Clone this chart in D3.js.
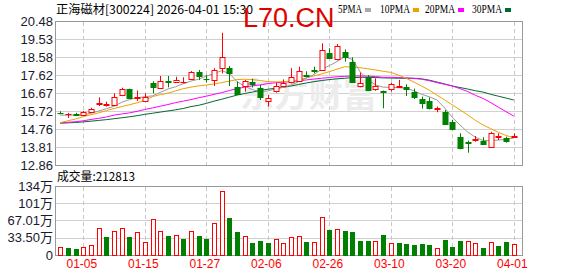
<!DOCTYPE html>
<html lang="zh">
<head>
<meta charset="UTF-8">
<title>正海磁材 K线</title>
<style>
  body { margin: 0; background: #fff; }
  svg text { font-family: "Liberation Sans", Arial, "Noto Sans CJK SC", sans-serif; }
</style>
</head>
<body>
<div id="chart"></div>
<script src="https://d3js.org/d3.v7.min.js"></script>
<script>
// trading days shown (MM-DD)
var dates = ["12-29","12-30","12-31","01-05","01-06","01-07","01-08","01-09","01-12","01-13","01-14",
  "01-15","01-16","01-19","01-20","01-21","01-22","01-23","01-26","01-27","01-28","01-29","01-30",
  "02-02","02-03","02-04","02-05","02-06","02-09","02-10","02-11","02-12","02-13","02-24","02-25",
  "02-26","02-27","03-02","03-03","03-04","03-05","03-06","03-09","03-10","03-11","03-12","03-13",
  "03-16","03-17","03-18","03-19","03-20","03-23","03-24","03-25","03-26","03-27","03-30","03-31","04-01"];

var open  = [15.63,15.52,15.56,15.51,15.68,16.10,16.05,16.07,16.56,16.88,16.42,16.26,17.22,16.95,17.29,17.22,17.24,17.45,17.78,17.41,
  17.36,17.98,18.01,17.00,17.04,17.27,16.92,16.21,16.79,17.04,17.22,17.32,17.60,17.91,17.89,18.80,18.45,18.86,18.33,17.04,
  17.53,16.87,16.76,16.85,17.02,16.97,16.74,16.37,16.23,15.82,15.65,15.12,14.33,14.09,14.22,14.15,13.78,14.37,14.27,14.37];
var high  = [15.70,15.62,15.62,15.72,15.89,16.44,16.21,16.65,16.95,16.90,16.80,16.65,17.29,17.57,17.57,17.53,17.50,17.83,17.89,17.62,
  17.98,19.86,18.10,17.27,17.36,17.43,17.09,16.56,17.22,17.39,17.98,18.06,17.82,18.06,19.30,19.04,19.26,18.98,18.56,17.75,
  17.62,17.45,16.80,17.22,17.36,17.13,16.90,16.48,16.43,15.95,15.77,15.25,14.54,14.15,14.39,14.33,14.62,14.54,14.36,14.54];
var low   = [15.55,15.35,15.45,15.49,15.66,15.98,15.95,16.04,16.50,16.40,16.25,16.22,16.65,16.93,16.97,17.20,17.18,17.42,17.36,17.22,
  17.04,17.71,17.04,16.60,16.74,16.97,16.30,15.95,16.69,17.00,17.18,17.28,17.50,17.71,17.85,18.50,18.40,18.33,17.20,16.97,
  16.79,16.79,15.86,16.74,17.00,16.51,16.36,15.84,15.80,15.65,14.99,14.70,13.69,13.51,14.09,13.95,13.78,14.18,14.04,14.31];
var close = [15.61,15.54,15.53,15.65,15.82,16.13,16.08,16.48,16.88,16.42,16.46,16.47,17.00,17.31,17.26,17.34,17.26,17.80,17.57,17.39,
  17.89,18.56,17.74,16.65,17.31,17.17,16.42,16.39,17.04,17.18,17.50,17.85,17.55,17.88,18.95,18.56,19.16,18.59,17.27,17.18,
  16.83,17.04,16.72,17.12,17.05,16.87,16.47,16.16,15.86,15.85,15.03,14.75,13.74,14.03,14.25,13.97,14.54,14.40,14.09,14.40];

// moving averages as drawn
var ma5  = [15.50,15.50,15.50,15.52,15.60,15.72,15.84,15.97,16.18,16.32,16.42,16.47,16.52,16.70,16.88,17.00,17.16,17.30,17.40,17.56,
  17.70,17.85,17.70,17.27,17.02,16.85,16.74,16.78,16.88,16.97,17.09,17.27,17.45,17.65,17.92,18.12,18.33,18.59,18.45,17.80,
  17.38,17.10,16.98,16.97,16.95,16.92,16.79,16.60,16.47,16.30,15.88,15.38,14.98,14.60,14.33,14.16,14.15,14.18,14.22,14.29];
var ma10 = [15.10,15.20,15.30,15.42,15.52,15.62,15.74,15.85,15.95,16.05,16.15,16.28,16.48,16.58,16.66,16.78,16.90,16.98,17.05,17.09,
  17.15,17.22,17.30,17.38,17.40,17.38,17.33,17.27,17.26,17.27,17.30,17.36,17.47,17.57,17.68,17.80,17.93,18.06,18.04,18.01,
  17.95,17.89,17.82,17.76,17.62,17.45,17.25,17.04,16.82,16.56,16.30,16.04,15.78,15.51,15.22,14.98,14.78,14.59,14.42,14.31];
var ma20 = [15.10,15.12,15.15,15.20,15.27,15.33,15.40,15.50,15.56,15.62,15.70,15.80,15.88,15.97,16.06,16.16,16.24,16.32,16.42,16.50,
  16.60,16.69,16.80,16.90,16.98,17.05,17.10,17.17,17.21,17.24,17.27,17.31,17.36,17.41,17.45,17.49,17.53,17.55,17.57,17.57,
  17.56,17.54,17.50,17.50,17.49,17.47,17.44,17.40,17.32,17.22,17.13,17.04,16.90,16.75,16.55,16.38,16.16,15.92,15.68,15.45];
var ma30 = [15.07,15.09,15.11,15.14,15.18,15.22,15.26,15.31,15.36,15.41,15.47,15.54,15.60,15.66,15.72,15.78,15.85,15.95,16.02,16.12,
  16.24,16.34,16.45,16.56,16.64,16.72,16.80,16.87,16.92,16.97,17.04,17.12,17.20,17.27,17.33,17.38,17.42,17.45,17.48,17.50,
  17.50,17.49,17.47,17.46,17.45,17.45,17.45,17.42,17.35,17.25,17.15,17.04,16.96,16.88,16.79,16.72,16.60,16.50,16.40,16.30];

// volume in 万 and its colour (u = red, d = green)
var volume = [16.1,14.2,11.7,16.1,19.4,53.1,35.0,46.6,53.1,35.0,44.0,25.2,69.9,46.6,36.9,38.2,31.7,46.6,36.9,31.1,
  61.5,124.3,72.4,44.0,36.3,23.3,27.2,23.3,31.1,22.7,35.0,36.3,25.2,24.6,73.2,48.5,49.8,46.6,44.7,27.2,
  27.2,27.2,38.8,22.7,22.7,20.7,19.4,21.4,19.4,12.9,29.1,15.5,27.2,27.2,22.7,13.6,24.6,17.5,25.2,21.2813];
var volDir = ["u","d","d","u","u","u","d","u","u","d","u","u","u","u","d","u","d","u","d","d",
  "u","u","d","d","u","d","d","d","u","u","u","u","d","u","u","d","u","d","d","d",
  "d","u","d","u","d","d","d","d","d","u","d","d","d","u","u","d","u","d","d","u"];

var priceTicks = [20.48, 19.53, 18.58, 17.62, 16.67, 15.72, 14.76, 13.81, 12.86];
var volTicks = [134.01, 100.51, 67.01, 33.50, 0];
var volTickLabels = ["134万", "101万", "67.01万", "33.50万", "0"];
var dateTicks = ["01-05","01-15","01-27","02-06","02-26","03-10","03-20","04-01"];

var RED = "#ff0000", GREEN = "#008000";

var svg = d3.select("#chart").append("svg")
    .attr("width", 578)
    .attr("height", 276);

var left = 55, right = 522.5;
var x = d3.scalePoint().domain(dates).range([60.3, 513.8]);
var y = d3.scaleLinear().domain([12.86, 20.48]).range([165, 21]);
var yv = d3.scaleLinear().domain([0, 134.01]).range([255, 186]);

function px(v) { return Math.round(v) + 0.5; }

// grid lines
svg.append("g").selectAll("line").data(priceTicks).enter().append("line")
    .attr("x1", left).attr("x2", right)
    .attr("y1", function(d) { return px(y(d)); })
    .attr("y2", function(d) { return px(y(d)); })
    .attr("stroke", "#d0d0d0");
svg.append("g").selectAll("line").data(volTicks).enter().append("line")
    .attr("x1", left).attr("x2", right)
    .attr("y1", function(d) { return px(yv(d)); })
    .attr("y2", function(d) { return px(yv(d)); })
    .attr("stroke", "#d0d0d0");

var vgrid = svg.append("g").selectAll("g").data(dateTicks).enter().append("g");
vgrid.append("line")
    .attr("x1", function(d) { return px(x(d)); }).attr("x2", function(d) { return px(x(d)); })
    .attr("y1", 22).attr("y2", 165)
    .attr("stroke", "#c8c8c8").attr("stroke-dasharray", "4,3");
vgrid.append("line")
    .attr("x1", function(d) { return px(x(d)); }).attr("x2", function(d) { return px(x(d)); })
    .attr("y1", 187).attr("y2", 255)
    .attr("stroke", "#c8c8c8").attr("stroke-dasharray", "4,3");

// watermark
svg.append("text")
    .attr("x", 240).attr("y", 107)
    .attr("textLength", 137)
    .style("font-family", "'Noto Sans CJK SC', sans-serif")
    .style("font-size", "34px").style("font-weight", "bold")
    .attr("fill", "#ececec")
    .text("东方财富");

// frames
svg.append("rect").attr("x", left + 0.5).attr("y", 21.5).attr("width", right - left - 0.5).attr("height", 144)
    .attr("fill", "none").attr("stroke", "#999");
svg.append("rect").attr("x", left + 0.5).attr("y", 186.5).attr("width", right - left - 0.5).attr("height", 69)
    .attr("fill", "none").attr("stroke", "#999");

// moving average lines
var maList = [[ma30, "#006b2d"], [ma20, "#ff00ff"], [ma10, "#f0a000"], [ma5, "#999999"]];
var line = d3.line()
    .x(function(d, i) { return x(dates[i]); })
    .y(function(d) { return y(d); });
maList.forEach(function(m) {
    svg.append("path").attr("d", line(m[0]))
        .attr("fill", "none").attr("stroke", m[1]).attr("stroke-width", 1);
});

// candles
var candle = svg.append("g").selectAll("g").data(dates).enter().append("g");
candle.append("line")
    .attr("x1", function(d) { return px(x(d)); }).attr("x2", function(d) { return px(x(d)); })
    .attr("y1", function(d, i) { return y(high[i]); })
    .attr("y2", function(d, i) { return y(low[i]); })
    .attr("stroke", function(d, i) { return close[i] >= open[i] ? RED : GREEN; });
candle.append("rect")
    .attr("x", function(d) { return Math.round(x(d)) - 2; })
    .attr("width", 5)
    .attr("y", function(d, i) { return Math.round(y(Math.max(open[i], close[i]))) + 0.5; })
    .attr("height", function(d, i) { return Math.max(0.1, Math.round(Math.abs(y(open[i]) - y(close[i])))); })
    .attr("fill", function(d, i) { return close[i] >= open[i] ? "#fff" : GREEN; })
    .attr("stroke", function(d, i) { return close[i] >= open[i] ? RED : GREEN; });

// volume bars
svg.append("g").selectAll("rect").data(volume).enter().append("rect")
    .attr("x", function(d, i) { return Math.round(x(dates[i])) - 2 + 0.5; })
    .attr("width", 4)
    .attr("y", function(d) { return Math.round(yv(d)) + 0.5; })
    .attr("height", function(d) { return 255 - Math.round(yv(d)); })
    .attr("fill", function(d, i) { return volDir[i] === "u" ? "#fff" : GREEN; })
    .attr("stroke", function(d, i) { return volDir[i] === "u" ? RED : GREEN; });

// axes
var yAxis = svg.append("g").attr("transform", "translate(" + left + ",0)")
    .call(d3.axisLeft(y).tickValues(priceTicks).tickSize(0).tickPadding(2).tickFormat(d3.format(".2f")));
yAxis.select(".domain").remove();
yAxis.selectAll("text").style("font-size", "13px").attr("fill", "#1a1a2e")
    .style("font-family", "'Liberation Sans', Arial, sans-serif");

var vAxis = svg.append("g").attr("transform", "translate(" + left + ",0)")
    .call(d3.axisLeft(yv).tickValues(volTicks).tickSize(0).tickPadding(2)
        .tickFormat(function(d, i) { return volTickLabels[i]; }));
vAxis.select(".domain").remove();
vAxis.selectAll("text").style("font-size", "13px").attr("fill", "#1a1a2e")
    .style("font-family", "'Liberation Sans', Arial, 'Noto Sans CJK SC', sans-serif");

var xAxis = svg.append("g").attr("transform", "translate(-2,255)")
    .call(d3.axisBottom(x).tickValues(dateTicks).tickSize(0).tickPadding(4));
xAxis.select(".domain").remove();
xAxis.selectAll("text").style("font-size", "12px").attr("fill", RED)
    .style("font-family", "'Liberation Sans', Arial, sans-serif");

// title and labels
svg.append("text").attr("x", 56).attr("y", 14)
    .attr("textLength", 197).attr("lengthAdjust", "spacingAndGlyphs")
    .style("font-family", "'Noto Sans CJK SC', sans-serif").style("font-size", "12px")
    .attr("fill", "#000")
    .text("正海磁材[300224] 2026-04-01 15:30");

svg.append("text").attr("x", 243).attr("y", 26.5)
    .style("font-family", "'Liberation Sans', Arial, sans-serif").style("font-size", "27px")
    .attr("fill", "#e00000")
    .text("L70.CN");

svg.append("text").attr("x", 57).attr("y", 181)
    .attr("textLength", 78).attr("lengthAdjust", "spacingAndGlyphs")
    .style("font-family", "'Noto Sans CJK SC', sans-serif").style("font-size", "12px")
    .attr("fill", "#000")
    .text("成交量:" + Math.round(volume[volume.length - 1] * 10000));

// legend
var legend = [["5PMA", "#aaaaaa", 338], ["10PMA", "#f0a000", 380], ["20PMA", "#ff00ff", 425], ["30PMA", "#006b2d", 472]];
var lg = svg.append("g").selectAll("g").data(legend).enter().append("g");
lg.append("text")
    .attr("x", function(d) { return d[2]; }).attr("y", 13)
    .attr("textLength", function(d) { return d[0].length * 6; })
    .attr("lengthAdjust", "spacingAndGlyphs")
    .style("font-family", "'Liberation Serif', serif").style("font-size", "12px")
    .attr("fill", "#000")
    .text(function(d) { return d[0]; });
lg.append("rect")
    .attr("x", function(d) { return d[2] + d[0].length * 6 + 3; }).attr("y", 8)
    .attr("width", 6).attr("height", 4)
    .attr("fill", function(d) { return d[1]; });
</script>
</body>
</html>
